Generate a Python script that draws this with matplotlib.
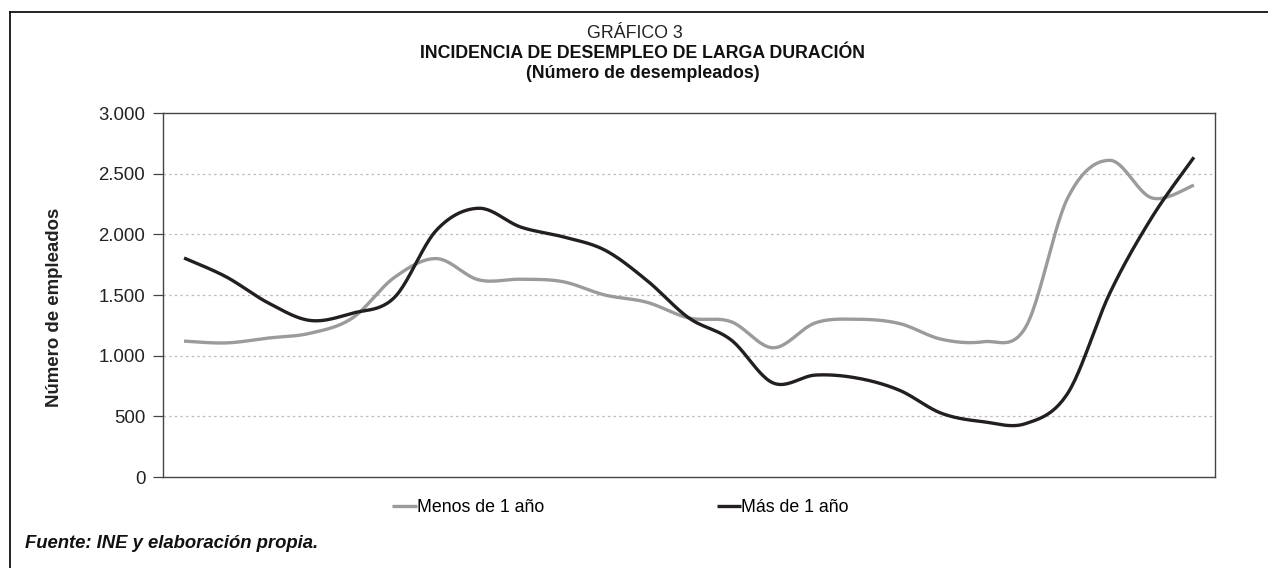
import numpy as np
import matplotlib
matplotlib.use("Agg")
import matplotlib.pyplot as plt
from matplotlib.lines import Line2D
from matplotlib.ticker import FuncFormatter

plt.rcParams['font.family'] = ['Liberation Sans', 'DejaVu Sans']

# Datos (25 periodos, sin etiquetas en el eje x)
periodos = np.arange(25)
menos_1_anyo = [1120, 1105, 1145, 1185, 1310, 1645, 1800, 1625, 1630, 1610,
                1500, 1440, 1310, 1280, 1065, 1270, 1300, 1265, 1135, 1115,
                1235, 2300, 2610, 2300, 2405]
mas_1_anyo = [1805, 1650, 1435, 1290, 1350, 1480, 2035, 2215, 2060, 1980,
              1870, 1620, 1310, 1130, 775, 840, 815, 715, 525, 455,
              440, 690, 1515, 2140, 2635]

color_menos = '#9b9b9b'
color_mas = '#231f20'


def suavizar(xs, ys, n=24):
    # curva suavizada tipo Catmull-Rom (como las lineas suavizadas de Excel)
    pts = np.column_stack([xs, ys]).astype(float)
    pts = np.vstack([pts[0], pts, pts[-1]])
    t = np.linspace(0, 1, n, endpoint=False)[:, None]
    out = []
    for i in range(1, len(pts) - 2):
        p0, p1, p2, p3 = pts[i - 1], pts[i], pts[i + 1], pts[i + 2]
        seg = 0.5 * (2 * p1 + (-p0 + p2) * t + (2 * p0 - 5 * p1 + 4 * p2 - p3) * t ** 2
                     + (-p0 + 3 * p1 - 3 * p2 + p3) * t ** 3)
        out.append(seg)
    out.append(pts[-2][None, :])
    out = np.vstack(out)
    return out[:, 0], out[:, 1]


W, H = 1268, 568
fig = plt.figure(figsize=(W / 100, H / 100), dpi=100)
ax = fig.add_axes([163 / W, 1 - 477 / H, 1052 / W, 364 / H])

x1, y1 = suavizar(periodos, menos_1_anyo)
x2, y2 = suavizar(periodos, mas_1_anyo)
ax.plot(x1, y1, color=color_menos, lw=2.4, solid_capstyle='butt', label='Menos de 1 año', zorder=3)
ax.plot(x2, y2, color=color_mas, lw=2.4, solid_capstyle='butt', label='Más de 1 año', zorder=4)

ax.set_xlim(-0.5, 24.5)
ax.set_ylim(0, 3000)
ax.set_yticks(np.arange(0, 3001, 500))
ax.yaxis.set_major_formatter(FuncFormatter(lambda v, p: '{:,.0f}'.format(v).replace(',', '.')))
ax.set_xticks([])
ax.tick_params(axis='y', length=7.2, width=0.9, color='#444444', pad=5.5, labelsize=13.4, labelcolor='#222222')
for s in ax.spines.values():
    s.set_color('#444444')
    s.set_linewidth(1.0)
for v in range(500, 3000, 500):
    ax.axhline(v, color='#bdbdbd', lw=0.9, ls=(0, (2, 2.5)), zorder=1)

fig.text(55 / W, 1 - 307 / H, 'Número de empleados', rotation=90, ha='center', va='center',
         fontsize=13.4, fontweight='bold', color='#222222')

# titulos
fig.text(635 / W, 1 - 33 / H, 'GRÁFICO 3', ha='center', va='center', fontsize=12.8, color='#222222')
fig.text(642 / W, 1 - 54 / H, 'INCIDENCIA DE DESEMPLEO DE LARGA DURACIÓN', ha='center', va='center',
         fontsize=12.8, fontweight='bold', color='#111111')
fig.text(643 / W, 1 - 73 / H, '(Número de desempleados)', ha='center', va='center',
         fontsize=12.8, fontweight='bold', color='#111111')

fig.legend(loc='center left', bbox_to_anchor=(392 / W, 1 - 508 / H), ncol=2, frameon=False,
           fontsize=12.8, handlelength=1.4, handletextpad=0.0, columnspacing=9.7,
           borderpad=0, borderaxespad=0)

fig.text(25 / W, 1 - 544 / H, 'Fuente: INE y elaboración propia.', ha='left', va='center',
         fontsize=13.3, fontweight='bold', fontstyle='italic', color='#111111')

# marco exterior (arriba e izquierda)
fig.add_artist(Line2D([10 / W, 10 / W], [0, 1 - 12 / H], color='#111111', lw=1.3, transform=fig.transFigure))
fig.add_artist(Line2D([10 / W, 1], [1 - 12 / H, 1 - 12 / H], color='#111111', lw=1.3, transform=fig.transFigure))

fig.savefig('out.png', dpi=100)
